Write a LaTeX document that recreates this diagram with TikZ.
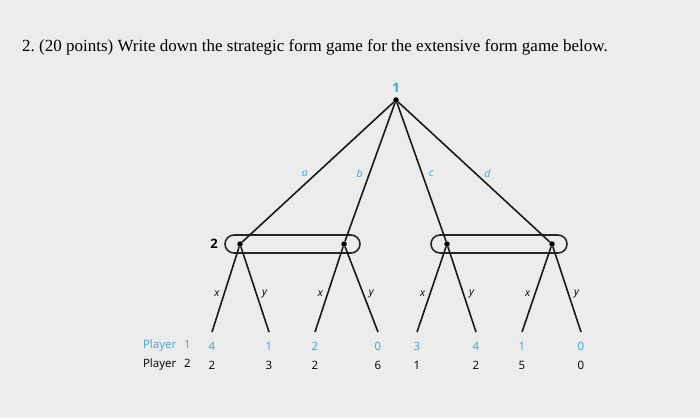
\documentclass[tikz,border=0pt]{standalone}
\usepackage{fontspec}
\setmainfont{Liberation Serif}
\newfontfamily\treefont{Open Sans}
\usetikzlibrary{positioning}
\definecolor{pblue}{RGB}{60,165,215}
\definecolor{bggray}{RGB}{236,236,236}
\tikzset{branch/.style={draw=black!90, line width=1.6pt},
 dot/.style={circle, fill=black, inner sep=0pt, minimum size=5.5pt},
 infoset/.style={draw=black!85, line width=1.6pt, rounded corners=9pt},
 act/.style={font=\treefont\itshape\fontsize{10.5}{12}\selectfont, text=pblue, inner sep=0pt},
 mv/.style={font=\treefont\itshape\fontsize{10.5}{12}\selectfont, text=black, inner sep=0pt},
 pay1/.style={font=\treefont\fontsize{11.5}{13}\selectfont, text=pblue, inner sep=0pt},
 pay2/.style={font=\treefont\fontsize{11.5}{13}\selectfont, text=black, inner sep=0pt},
 who/.style={font=\treefont\bfseries\fontsize{13}{15}\selectfont, inner sep=0pt}}

\begin{document}
\begin{tikzpicture}[x=1pt,y=-1pt]
  \fill[bggray] (0,0) rectangle (700,418);
  \node[anchor=west, inner sep=0pt, font=\fontsize{17}{20}\selectfont] (title) at (22,47)
    {2.\ (20 points) Write down the strategic form game for the extensive form game below.};
  % player 1
  \node[dot] (r) at (396,100) {};
  \node[who, text=pblue, above=4pt of r] (rl) {1};
  % player 2
  \node[dot] (a) at (240,244) {};
  \node[dot] (b) at (344,244) {};
  \node[dot] (c) at (447,244) {};
  \node[dot] (d) at (552,244) {};
  \draw[infoset] (225,235) rectangle (360,253);
  \draw[infoset] (431,235) rectangle (567,253);
  \node[who] (pl2) at (214,244) {2};
  \draw[branch] (r) -- node[act, pos=.51, left=8pt] {a} (a);
  \draw[branch] (r) -- node[act, pos=.51, left=6pt] {b} (b);
  \draw[branch] (r) -- node[act, pos=.51, right=6pt] {c} (c);
  \draw[branch] (r) -- node[act, pos=.51, right=8pt] {d} (d);
  % leaves
  \coordinate (ax) at (212,332);
  \coordinate (ay) at (269,332);
  \coordinate (bx) at (315,332);
  \coordinate (by) at (378,332);
  \coordinate (cx) at (417,332);
  \coordinate (cy) at (476,332);
  \coordinate (dx) at (522,332);
  \coordinate (dy) at (581,332);
  \draw[branch] (a) -- node[mv, pos=.55, left=4pt] {x} (ax);
  \draw[branch] (a) -- node[mv, pos=.55, right=5pt] {y} (ay);
  \draw[branch] (b) -- node[mv, pos=.55, left=4pt] {x} (bx);
  \draw[branch] (b) -- node[mv, pos=.55, right=5pt] {y} (by);
  \draw[branch] (c) -- node[mv, pos=.55, left=4pt] {x} (cx);
  \draw[branch] (c) -- node[mv, pos=.55, right=5pt] {y} (cy);
  \draw[branch] (d) -- node[mv, pos=.55, left=4pt] {x} (dx);
  \draw[branch] (d) -- node[mv, pos=.55, right=5pt] {y} (dy);
  % payoffs
  \node[pay1, below=10pt of ax] (ax1) {4};
  \node[pay1, below=10pt of ay] (ay1) {1};
  \node[pay1, below=10pt of bx] (bx1) {2};
  \node[pay1, below=10pt of by] (by1) {0};
  \node[pay1, below=10pt of cx] (cx1) {3};
  \node[pay1, below=10pt of cy] (cy1) {4};
  \node[pay1, below=10pt of dx] (dx1) {1};
  \node[pay1, below=10pt of dy] (dy1) {0};
  \node[pay2, below=10pt of ax1] (ax2) {2};
  \node[pay2, below=10pt of ay1] (ay2) {3};
  \node[pay2, below=10pt of bx1] (bx2) {2};
  \node[pay2, below=10pt of by1] (by2) {6};
  \node[pay2, below=10pt of cx1] (cx2) {1};
  \node[pay2, below=10pt of cy1] (cy2) {2};
  \node[pay2, below=10pt of dx1] (dx2) {5};
  \node[pay2, below=10pt of dy1] (dy2) {0};
  \node[pay1, anchor=east] (p1) at (191,346) {Player\hspace{8pt}1};
  \node[pay2, anchor=east] (p2) at (191,365) {Player\hspace{8pt}2};
\end{tikzpicture}
\end{document}
